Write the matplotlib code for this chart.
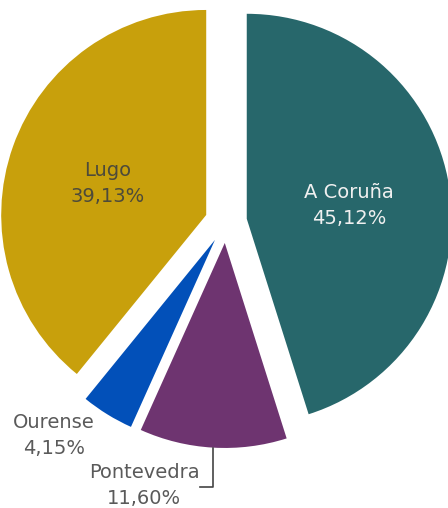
import numpy as np
import matplotlib; matplotlib.use("Agg")
import matplotlib.pyplot as plt

# --- data ---
provinces = ['A Coruña', 'Pontevedra', 'Ourense', 'Lugo']
shares = [45.12, 11.60, 4.15, 39.13]
colors = ['#27676B', '#6E3470', '#0250B9', '#C8A00C']
pct_labels = ['45,12%', '11,60%', '4,15%', '39,13%']

fig = plt.figure(figsize=(4.48, 5.08), dpi=100)
ax = fig.add_axes([0, 0, 1, 1])

# explode is in data units here (pixels), not fraction of radius
ax.pie(shares, colors=colors, startangle=90, counterclock=False,
       center=(226, -222), radius=205, explode=[21]*4,
       wedgeprops=dict(linewidth=0), frame=True)
ax.set_xlim(0, 448); ax.set_ylim(-508, 0); ax.set_aspect('equal'); ax.axis('off')

fs = 14
grey = '#5a5a5a'
ax.text(349, -193, provinces[0], color='#f0f0f0', fontsize=fs, ha='center', va='center')
ax.text(349, -219, pct_labels[0], color='#f0f0f0', fontsize=fs, ha='center', va='center')
ax.text(108, -170, provinces[3], color='#4d4a3a', fontsize=fs, ha='center', va='center')
ax.text(108, -196, pct_labels[3], color='#4d4a3a', fontsize=fs, ha='center', va='center')
ax.text(54, -423, provinces[2], color=grey, fontsize=fs, ha='center', va='center')
ax.text(54, -449, pct_labels[2], color=grey, fontsize=fs, ha='center', va='center')
ax.text(144, -472, provinces[1], color=grey, fontsize=fs, ha='center', va='center')
ax.text(144, -498, pct_labels[1], color=grey, fontsize=fs, ha='center', va='center')
# leader line for Pontevedra
ax.plot([213, 213, 200], [-448, -487, -487], color='#444444', lw=1.2)

fig.savefig('out.png', dpi=100)
